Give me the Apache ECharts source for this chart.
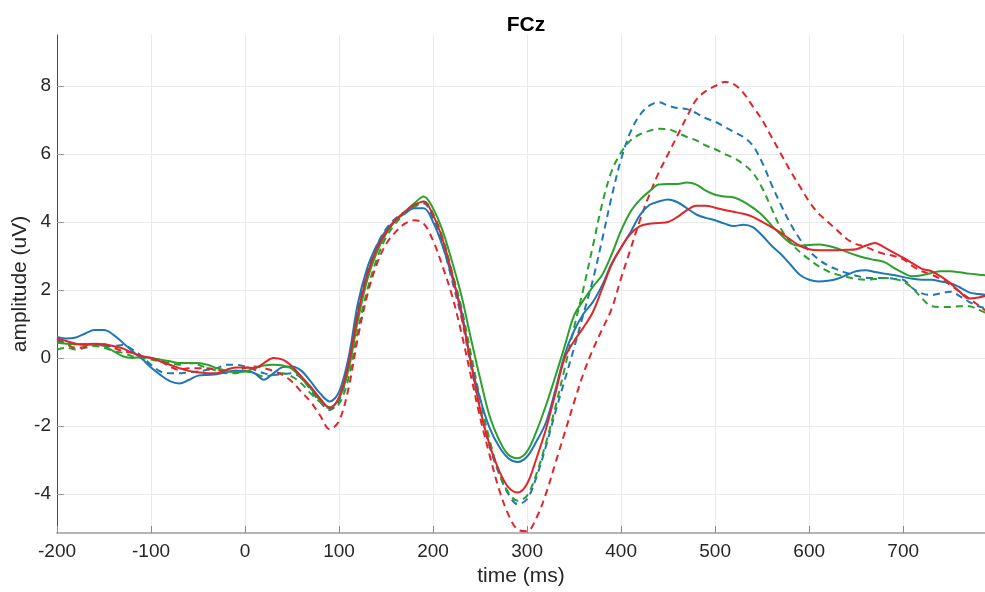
<!DOCTYPE html>
<html>
<head>
<meta charset="utf-8">
<title>FCz</title>
<script src="https://cdn.jsdelivr.net/npm/echarts@6/dist/echarts.min.js"></script>
<style>
  html, body { margin: 0; padding: 0; background: #fff; }
  #chart { width: 985px; height: 592px; }
</style>
</head>
<body>
<div id="chart"></div>
<script>
// sample times (ms)
var times = [
  -200, -190, -180, -170, -160, -150, -140, -130, -120, -110,
  -100, -90, -80, -70, -60, -50, -40, -30, -20, -10,
  0, 10, 20, 30, 40, 50, 60, 70, 80, 90,
  100, 110, 120, 130, 140, 150, 160, 170, 180, 190,
  200, 210, 220, 230, 240, 250, 260, 270, 280, 290,
  300, 310, 320, 330, 340, 350, 360, 370, 380, 390,
  400, 410, 420, 430, 440, 450, 460, 470, 480, 490,
  500, 510, 520, 530, 540, 550, 560, 570, 580, 590,
  600, 610, 620, 630, 640, 650, 660, 670, 680, 690,
  700, 710, 720, 730, 740, 750, 760, 770, 780, 790
];

var xTicks = [-200, -100, 0, 100, 200, 300, 400, 500, 600, 700];
var yTicks = [-4, -2, 0, 2, 4, 6, 8];

// solid lines
var blueSolid = [
  0.62, 0.57, 0.6, 0.72, 0.82, 0.82, 0.68, 0.45, 0.2, -0.02,
  -0.28, -0.5, -0.68, -0.75, -0.65, -0.52, -0.5, -0.48, -0.42, -0.38,
  -0.38, -0.45, -0.64, -0.45, -0.27, -0.25, -0.38, -0.7, -1.05, -1.28,
  -1.0, 0.0, 1.6, 2.65, 3.3, 3.75, 4.05, 4.25, 4.4, 4.4,
  4.0, 3.3, 2.4, 1.4, -0.1, -1.2, -2.05, -2.6, -2.95, -3.06,
  -2.9, -2.45, -1.9, -0.95, 0.1, 0.8, 1.3, 1.65, 2.15, 2.78,
  3.25, 3.7, 4.2, 4.5, 4.6, 4.66, 4.58, 4.4, 4.22, 4.12,
  4.05, 3.95, 3.88, 3.92, 3.85, 3.6, 3.3, 3.05, 2.75, 2.45,
  2.3, 2.25, 2.27, 2.33, 2.44, 2.55, 2.58, 2.53, 2.48, 2.44,
  2.38, 2.33, 2.3, 2.3, 2.25, 2.2, 2.08, 1.93, 1.88, 1.85
];
var greenSolid = [
  0.45, 0.42, 0.4, 0.38, 0.4, 0.35, 0.2, 0.05, 0.0, 0.02,
  0.0, -0.05, -0.1, -0.15, -0.15, -0.15, -0.2, -0.3, -0.38, -0.42,
  -0.4, -0.3, -0.22, -0.2, -0.22, -0.32, -0.6, -0.9, -1.25, -1.45,
  -1.2, -0.35, 1.1, 2.3, 3.1, 3.65, 4.05, 4.3, 4.55, 4.75,
  4.4, 3.75, 2.85, 1.85, 0.6, -0.6, -1.7, -2.4, -2.85, -2.95,
  -2.75, -2.15, -1.4, -0.55, 0.35, 1.25, 1.7, 2.1, 2.45, 3.05,
  3.75, 4.3, 4.65, 4.9, 5.1, 5.12, 5.12, 5.16, 5.1, 4.92,
  4.8, 4.75, 4.72, 4.6, 4.42, 4.2, 3.9, 3.62, 3.38, 3.3,
  3.32, 3.34, 3.3, 3.22, 3.12, 3.02, 2.94, 2.88, 2.82, 2.65,
  2.5, 2.4, 2.43, 2.5, 2.55, 2.55, 2.52, 2.48, 2.45, 2.42
];
var redSolid = [
  0.58, 0.5, 0.42, 0.4, 0.42, 0.4, 0.35, 0.28, 0.15, 0.05,
  0.0, -0.1, -0.2, -0.3, -0.38, -0.42, -0.45, -0.45, -0.35, -0.28,
  -0.28, -0.3, -0.15, 0.0, -0.05, -0.25, -0.55, -0.85, -1.2, -1.47,
  -1.15, -0.2, 1.3, 2.45, 3.2, 3.7, 4.05, 4.3, 4.5, 4.6,
  4.2, 3.5, 2.5, 1.3, -0.1, -1.5, -2.55, -3.3, -3.8, -3.96,
  -3.7, -2.95, -2.1, -1.05, 0.0, 0.5, 0.9, 1.35, 2.05, 2.75,
  3.25, 3.65, 3.88, 3.95, 3.97, 4.0, 4.15, 4.35, 4.48, 4.48,
  4.42, 4.35, 4.3, 4.24, 4.15, 4.0, 3.85, 3.68, 3.48, 3.3,
  3.2, 3.17, 3.17, 3.17, 3.18, 3.2, 3.3, 3.38, 3.25, 3.1,
  2.95, 2.78, 2.62, 2.55, 2.4, 2.2, 1.95, 1.75, 1.78, 1.85
];

// dashed lines
var blueDash = [
  0.55, 0.45, 0.4, 0.4, 0.4, 0.35, 0.35, 0.38, 0.25, 0.05,
  -0.2, -0.4, -0.45, -0.45, -0.42, -0.4, -0.35, -0.3, -0.2, -0.2,
  -0.25, -0.35, -0.45, -0.5, -0.48, -0.45, -0.6, -0.95, -1.3, -1.53,
  -1.25, -0.3, 1.4, 2.55, 3.3, 3.8, 4.1, 4.3, 4.45, 4.55,
  4.1, 3.35, 2.3, 1.2, -0.2, -1.5, -2.6, -3.4, -4.0, -4.3,
  -4.15, -3.5, -2.6, -1.6, -0.65, 0.3, 1.3, 2.3, 3.5, 4.75,
  5.85, 6.65, 7.15, 7.42, 7.52, 7.42, 7.35, 7.32, 7.2, 7.05,
  6.95, 6.8, 6.65, 6.5, 6.25, 5.75, 5.1, 4.5, 3.95, 3.5,
  3.15, 2.9, 2.72, 2.6, 2.5, 2.42, 2.36, 2.35, 2.35, 2.33,
  2.3, 2.05, 1.9, 1.85, 1.9, 1.95, 1.82, 1.65, 1.52, 1.45
];
var greenDash = [
  0.25, 0.3, 0.25, 0.3, 0.35, 0.3, 0.2, 0.15, 0.05, 0.0,
  -0.05, -0.1, -0.15, -0.2, -0.15, -0.2, -0.3, -0.38, -0.45, -0.45,
  -0.4, -0.45, -0.55, -0.5, -0.45, -0.55, -0.75, -1.05, -1.3, -1.48,
  -1.35, -0.6, 0.8, 2.0, 2.9, 3.55, 3.95, 4.25, 4.45, 4.6,
  4.25, 3.55, 2.55, 1.5, 0.15, -1.2, -2.4, -3.35, -3.95, -4.2,
  -4.05, -3.4, -2.5, -1.45, -0.3, 0.9, 2.05, 3.3, 4.55, 5.5,
  6.05, 6.4, 6.58, 6.68, 6.74, 6.73, 6.62, 6.5, 6.4, 6.25,
  6.14, 6.0, 5.88, 5.7, 5.45, 5.0, 4.4, 3.8, 3.4, 3.12,
  2.9, 2.7, 2.55, 2.45, 2.38, 2.32, 2.3, 2.32, 2.35, 2.32,
  2.25, 2.05, 1.75, 1.52, 1.5, 1.5, 1.52, 1.52, 1.42, 1.3
];
var redDash = [
  0.5, 0.4, 0.3, 0.32, 0.4, 0.4, 0.3, 0.2, 0.15, 0.05,
  0.0, -0.1, -0.25, -0.35, -0.3, -0.3, -0.3, -0.35, -0.4, -0.38,
  -0.3, -0.25, -0.3, -0.38, -0.5, -0.7, -1.0, -1.3, -1.7, -2.1,
  -1.85, -0.9, 0.6, 1.85, 2.75, 3.35, 3.7, 3.95, 4.05, 3.95,
  3.45, 2.7, 1.85, 0.75, -0.5, -1.75, -2.85, -3.85, -4.6, -5.05,
  -5.1, -4.7, -4.0, -3.1, -2.2, -1.3, -0.45, 0.25, 0.85, 1.45,
  2.35, 3.2, 4.05, 4.8, 5.45, 6.0, 6.55, 7.1, 7.6, 7.85,
  8.0, 8.12, 8.05, 7.8, 7.4, 7.0, 6.5, 6.0, 5.5, 5.05,
  4.6, 4.25, 4.0, 3.75, 3.5, 3.35, 3.27, 3.15, 3.06, 3.0,
  2.9, 2.7, 2.55, 2.45, 2.32, 2.15, 1.95, 1.75, 1.55, 1.35
];

var BLUE = '#1f77b4';
var GREEN = '#2ca02c';
var RED = '#e0262a';

function pairs(vals) {
  var out = [];
  for (var i = 0; i < times.length; i++) {
    out.push([times[i], vals[i]]);
  }
  return out;
}

function line(name, vals, color, dashed) {
  return {
    name: name,
    type: 'line',
    data: pairs(vals),
    smooth: 0.35,
    symbol: 'none',
    clip: true,
    lineStyle: {
      color: color,
      width: 2,
      type: dashed ? [7, 5] : 'solid'
    }
  };
}

var font = 'Liberation Sans, Arial, Helvetica, sans-serif';

var chart = echarts.init(document.getElementById('chart'), null, { renderer: 'canvas' });

chart.setOption({
  animation: false,
  backgroundColor: '#ffffff',
  title: {
    text: 'FCz',
    left: 521,
    top: 10,
    textAlign: 'center',
    textStyle: { fontFamily: font, fontWeight: 'bold', fontSize: 21, color: '#000' }
  },
  grid: { left: 57, right: 0, top: 35, bottom: 59, containLabel: false, outerBoundsMode: 'none' },
  xAxis: {
    type: 'value',
    min: -200,
    max: 787,
    name: 'time (ms)',
    nameLocation: 'middle',
    nameGap: 33,
    nameMoveOverlap: false,
    nameTextStyle: { fontFamily: font, fontSize: 21, color: '#262626' },
    axisLine: { show: true, onZero: false, lineStyle: { color: '#b5b5b5', width: 2 } },
    axisTick: { show: true, inside: true, length: 7, customValues: xTicks, lineStyle: { color: '#8a8a8a' } },
    axisLabel: { customValues: xTicks, margin: 9, fontFamily: font, fontSize: 19, color: '#262626' },
    splitLine: { show: true, lineStyle: { color: '#ebebeb', width: 1 } }
  },
  yAxis: {
    type: 'value',
    min: -5.15,
    max: 9.5,
    name: 'amplitude (uV)',
    nameLocation: 'middle',
    nameGap: 26,
    nameMoveOverlap: false,
    nameTextStyle: { fontFamily: font, fontSize: 21, color: '#262626' },
    axisLine: { show: true, onZero: false, lineStyle: { color: '#4a4a4a', width: 1 } },
    axisTick: { show: true, inside: true, length: 7, customValues: yTicks, lineStyle: { color: '#9a9a9a' } },
    axisLabel: { customValues: yTicks, margin: 6, fontFamily: font, fontSize: 19, color: '#262626' },
    splitLine: { show: true, lineStyle: { color: '#ebebeb', width: 1 } }
  },
  series: [
    line('blue dashed', blueDash, BLUE, true),
    line('green dashed', greenDash, GREEN, true),
    line('red dashed', redDash, RED, true),
    line('blue', blueSolid, BLUE, false),
    line('green', greenSolid, GREEN, false),
    line('red', redSolid, RED, false)
  ]
});
</script>
</body>
</html>
